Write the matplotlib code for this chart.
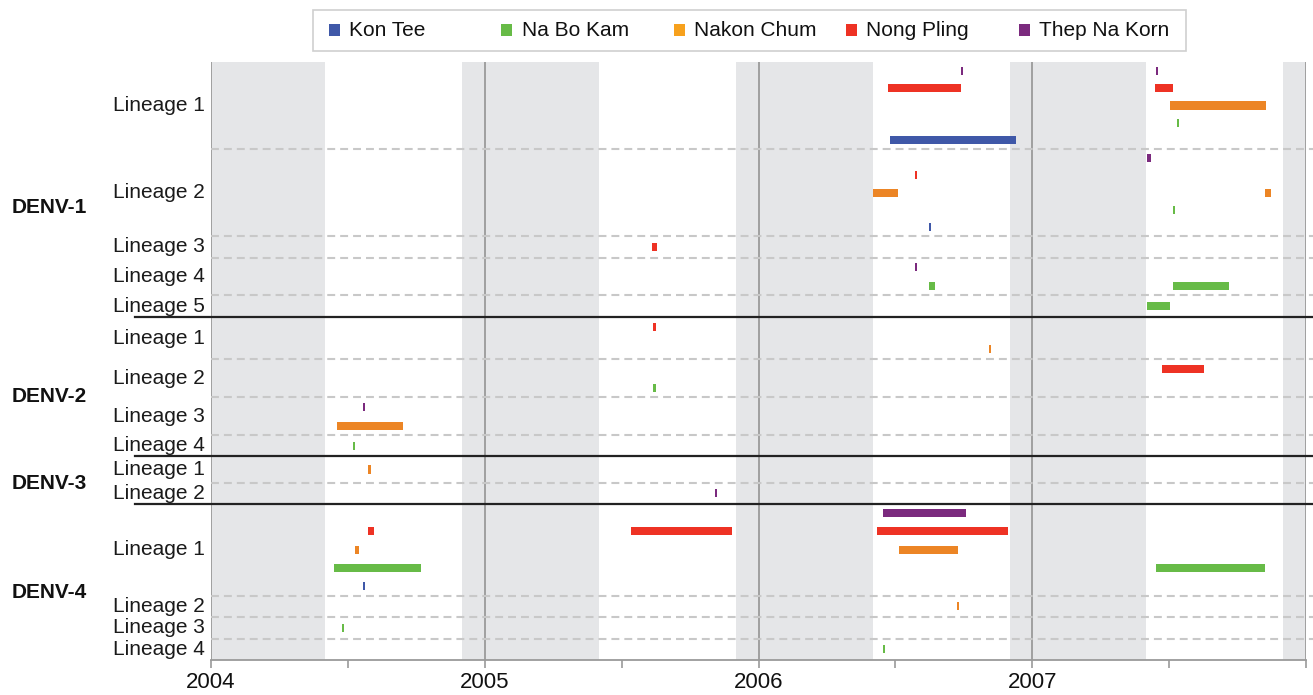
import matplotlib
matplotlib.use("Agg")
import matplotlib.pyplot as plt
import matplotlib.transforms as mtransforms
from matplotlib.patches import Rectangle

plt.rcParams['font.family'] = ['Liberation Sans', 'DejaVu Sans']

# ---------------- data ----------------
locations = ["Kon Tee", "Na Bo Kam", "Nakon Chum", "Nong Pling", "Thep Na Korn"]
bar_colors = ["#3F58A8", "#67BB47", "#EC8525", "#EE3224", "#7B2A7E"]
legend_colors = ["#3F58A8", "#67BB47", "#F7A11D", "#EE3224", "#7B2A7E"]
# top-to-bottom order of locations inside each lineage row
slot_order = ["Thep Na Korn", "Nong Pling", "Nakon Chum", "Na Bo Kam", "Kon Tee"]

serotypes = ["DENV-1", "DENV-2", "DENV-3", "DENV-4"]
lineage_counts = [5, 4, 2, 4]

year_ticks = [2004, 2005, 2006, 2007, 2008]
year_labels = ["2004", "2005", "2006", "2007", ""]
dry_season_starts = [2003.917, 2004.917, 2005.917, 2006.917, 2007.917]

# (lineage, location, first sample, last sample) in decimal years
denv1_records = [
    (1, "Thep Na Korn", 2006.740, 2006.747),
    (1, "Thep Na Korn", 2007.451, 2007.457),
    (1, "Nong Pling", 2006.474, 2006.741),
    (1, "Nong Pling", 2007.449, 2007.515),
    (1, "Nakon Chum", 2007.504, 2007.855),
    (1, "Na Bo Kam", 2007.528, 2007.535),
    (1, "Kon Tee", 2006.481, 2006.941),
    (2, "Thep Na Korn", 2007.419, 2007.435),
    (2, "Nong Pling", 2006.572, 2006.580),
    (2, "Nakon Chum", 2006.420, 2006.510),
    (2, "Nakon Chum", 2007.850, 2007.873),
    (2, "Na Bo Kam", 2007.515, 2007.522),
    (2, "Kon Tee", 2006.623, 2006.631),
    (3, "Nong Pling", 2005.611, 2005.628),
    (4, "Thep Na Korn", 2006.572, 2006.579),
    (4, "Na Bo Kam", 2006.623, 2006.646),
    (4, "Na Bo Kam", 2007.515, 2007.719),
    (5, "Na Bo Kam", 2007.419, 2007.504),
]
denv2_records = [
    (1, "Nong Pling", 2005.616, 2005.624),
    (1, "Nakon Chum", 2006.843, 2006.850),
    (2, "Nong Pling", 2007.475, 2007.628),
    (2, "Na Bo Kam", 2005.616, 2005.624),
    (3, "Thep Na Korn", 2004.555, 2004.562),
    (3, "Nakon Chum", 2004.461, 2004.702),
    (4, "Na Bo Kam", 2004.519, 2004.526),
]
denv3_records = [
    (1, "Nakon Chum", 2004.573, 2004.584),
    (2, "Thep Na Korn", 2005.840, 2005.849),
]
denv4_records = [
    (1, "Thep Na Korn", 2006.453, 2006.759),
    (1, "Nong Pling", 2004.573, 2004.596),
    (1, "Nong Pling", 2005.534, 2005.903),
    (1, "Nong Pling", 2006.434, 2006.913),
    (1, "Nakon Chum", 2004.526, 2004.539),
    (1, "Nakon Chum", 2006.514, 2006.729),
    (1, "Na Bo Kam", 2004.449, 2004.767),
    (1, "Na Bo Kam", 2007.453, 2007.849),
    (1, "Kon Tee", 2004.555, 2004.563),
    (2, "Nakon Chum", 2006.726, 2006.733),
    (3, "Na Bo Kam", 2004.477, 2004.487),
    (4, "Na Bo Kam", 2006.455, 2006.463),
]
records_by_serotype = [denv1_records, denv2_records, denv3_records, denv4_records]

# ---------------- layout ----------------
PAD = 0.31          # extra room per lineage row (in slot units)
GAP = 0.28          # extra room below each serotype separator
BAR_H = 0.49        # bar thickness (slot units)
MIN_W = 0.007       # minimum visible width for single samples (years)

fig = plt.figure(figsize=(13.13, 6.95), dpi=100)
ax = fig.add_axes([211 / 1313, 1 - 660 / 695, (1306 - 211) / 1313, (660 - 62) / 695])

color_of = dict(zip(locations, bar_colors))

y = 0.0
row_bounds = []      # (top, bottom, label)
block_bounds = []    # (top, bottom, name)
bars = []            # (ycenter, start, end, color)
for k, (sero, nlin, recs) in enumerate(zip(serotypes, lineage_counts, records_by_serotype)):
    btop = y
    for lin in range(1, nlin + 1):
        lrecs = [r for r in recs if r[0] == lin]
        present = [loc for loc in slot_order if any(r[1] == loc for r in lrecs)]
        n = len(present)
        h = n + PAD + (GAP if (lin == 1 and k > 0) else 0.0)
        rtop = y
        for i, loc in enumerate(present):
            yc = rtop + (i + 0.5) * h / n
            for r in lrecs:
                if r[1] == loc:
                    bars.append((yc, r[2], r[3], color_of[loc]))
        y += h
        row_bounds.append((rtop, y, f"Lineage {lin}"))
    block_bounds.append((btop, y, sero))
total = y

ax.set_xlim(2004, 2008)
ax.set_ylim(total, 0)

# dry season shading
for s in dry_season_starts:
    ax.axvspan(s, s + 0.5, color="#E5E6E8", lw=0, zorder=0)

# year grid lines
for t in year_ticks:
    ax.axvline(t, color="#9A9A9A", lw=1.3, zorder=1)

# lineage separators (dashed) and serotype separators (solid)
blend = mtransforms.blended_transform_factory(ax.transAxes, ax.transData)
block_ends = {b[1] for b in block_bounds}
for (rtop, rbot, lab) in row_bounds:
    if rbot < total - 1e-9 and not any(abs(rbot - be) < 1e-9 for be in block_ends):
        ax.plot([0, 1.006], [rbot, rbot], transform=blend, color="#C8C8C8",
                lw=1.5, dashes=(3.8, 2.4), zorder=2, clip_on=False)
    ax.text(-0.006, (rtop + rbot) / 2, lab, transform=blend, ha="right",
            va="center", fontsize=15, color="#1a1a1a")
for (btop, bbot, name) in block_bounds:
    if bbot < total - 1e-9:
        ax.plot([-0.069, 1.01], [bbot, bbot], transform=blend, color="#222222",
                lw=1.6, zorder=3, clip_on=False)
    ax.text(-0.182, btop + 0.57 * (bbot - btop), name, transform=blend,
            ha="left", va="center", fontsize=15, fontweight="bold", color="#111111")

# bars
for (yc, s, e, c) in bars:
    ax.barh(yc, max(e - s, MIN_W), left=s, height=BAR_H, color=c, lw=0, zorder=4)

# axes styling
for side in ["top", "right", "left"]:
    ax.spines[side].set_visible(False)
ax.spines["bottom"].set_color("#9A9A9A")
ax.spines["bottom"].set_linewidth(1.3)
ax.set_yticks([])
ax.set_xticks(year_ticks, year_labels)
ax.set_xticks([t + 0.5 for t in year_ticks[:-1]], minor=True)
ax.tick_params(axis="x", which="both", direction="out", length=6, width=1.2,
               color="#9A9A9A", labelsize=16, pad=3, labelcolor="#111111")
ax.patch.set_alpha(0)

# legend (equal-width columns)
fig.patches.append(Rectangle((313 / 1313, 1 - 51 / 695), (1186 - 313) / 1313, 41 / 695,
                             transform=fig.transFigure, facecolor="white",
                             edgecolor="#CFCFCF", lw=1.2, zorder=5))
for i, (name, col) in enumerate(zip(locations, legend_colors)):
    cx = 334 + i * 172.5
    fig.patches.append(Rectangle(((cx - 5.5) / 1313, 1 - 35.5 / 695), 11 / 1313, 11 / 695,
                                 transform=fig.transFigure, facecolor=col, lw=0, zorder=6))
    fig.text((cx + 15) / 1313, 1 - 30 / 695, name, ha="left", va="center",
             fontsize=15, color="#111111", zorder=7)

fig.savefig("out.png", dpi=100)
